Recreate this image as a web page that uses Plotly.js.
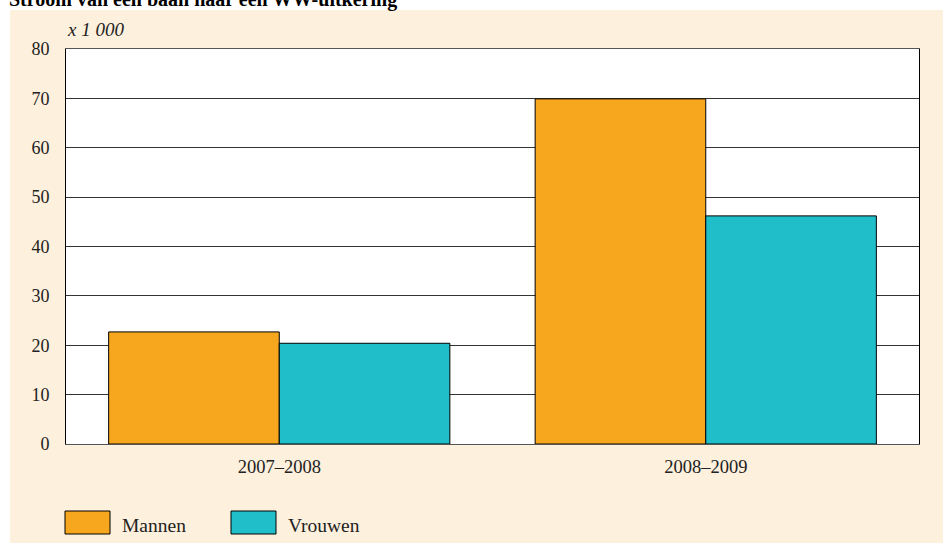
<!DOCTYPE html>
<html>
<head>
<meta charset="utf-8">
<script src="https://cdn.plot.ly/plotly-3.0.1.min.js"></script>
<style>html,body{margin:0;padding:0;background:#fff;}</style>
</head>
<body>
<div id="chart" style="width:943px;height:543px;"></div>
<script>
var categories = ["2007–2008", "2008–2009"];
var mannen = [22.7, 69.9];
var vrouwen = [20.4, 46.2];
var seriesNames = ["Mannen", "Vrouwen"];
var yTicks = [0, 10, 20, 30, 40, 50, 60, 70, 80];

var colors = ["#f7a71e", "#20bec9"];
var fontFam = "Liberation Serif, DejaVu Serif, serif";
var fs = 18;

var traces = [
  {type: "bar", x: categories, y: mannen, name: seriesNames[0],
   marker: {color: colors[0], line: {color: "#000", width: 1}}, hoverinfo: "skip"},
  {type: "bar", x: categories, y: vrouwen, name: seriesNames[1],
   marker: {color: colors[1], line: {color: "#000", width: 1}}, hoverinfo: "skip"}
];

var L = 66, R = 24, T = 49, B = 99, W = 943, H = 543;
var pw = W - L - R, ph = H - T - B;
function px(x){ return (x - L) / pw; }
function py(y){ return (H - B - y) / ph; }

var shapes = [
  {type: "rect", xref: "paper", yref: "paper", layer: "below",
   x0: px(10), x1: px(943), y0: py(543), y1: py(10),
   fillcolor: "#fdf0dc", line: {width: 0}},
  {type: "rect", xref: "paper", yref: "paper", layer: "below",
   x0: 0, x1: 1, y0: 0, y1: 1,
   fillcolor: "#ffffff", line: {width: 0}},
  {type: "rect", xref: "paper", yref: "paper",
   x0: px(65), x1: px(110), y0: py(534), y1: py(511),
   fillcolor: colors[0], line: {color: "#000", width: 1}},
  {type: "rect", xref: "paper", yref: "paper",
   x0: px(231), x1: px(276), y0: py(534), y1: py(511),
   fillcolor: colors[1], line: {color: "#000", width: 1}}
];

var annotations = [
  {text: "Stroom van een baan naar een WW-uitkering", xref: "paper", yref: "paper",
   x: px(7), y: py(13), xanchor: "left", yanchor: "bottom", showarrow: false,
   font: {family: fontFam, size: 20, color: "#000", weight: "bold"}},
  {text: "<i>x 1 000</i>", xref: "paper", yref: "paper",
   x: px(65), y: py(30), xanchor: "left", yanchor: "middle", showarrow: false,
   font: {family: fontFam, size: 19, color: "#222"}},
  {text: seriesNames[0], xref: "paper", yref: "paper",
   x: px(120), y: py(525), xanchor: "left", yanchor: "middle", showarrow: false,
   font: {family: fontFam, size: 19.5, color: "#222"}},
  {text: seriesNames[1], xref: "paper", yref: "paper",
   x: px(286), y: py(525), xanchor: "left", yanchor: "middle", showarrow: false,
   font: {family: fontFam, size: 19.5, color: "#222"}}
];

var layout = {
  width: W, height: H,
  margin: {l: L, r: R, t: T, b: B, pad: 0},
  paper_bgcolor: "#ffffff",
  plot_bgcolor: "#ffffff",
  barmode: "group",
  bargap: 0.2,
  bargroupgap: 0,
  showlegend: false,
  font: {family: fontFam, size: fs, color: "#222"},
  xaxis: {
    type: "category",
    showgrid: false,
    showline: true, linecolor: "#555", linewidth: 1, mirror: true,
    ticks: "", tickfont: {family: fontFam, size: 18.5, color: "#222"},
    ticklabelstandoff: 6,
    fixedrange: true
  },
  yaxis: {
    range: [0, 80],
    tickvals: yTicks,
    ticktext: yTicks.map(String),
    showgrid: true, gridcolor: "#333", gridwidth: 1,
    showline: true, linecolor: "#000", linewidth: 1, mirror: true,
    zeroline: false,
    ticks: "", tickfont: {family: fontFam, size: fs, color: "#222"},
    ticklabelstandoff: 12,
    fixedrange: true
  },
  shapes: shapes,
  annotations: annotations
};

Plotly.newPlot("chart", traces, layout, {displayModeBar: false, staticPlot: true});
</script>
</body>
</html>
